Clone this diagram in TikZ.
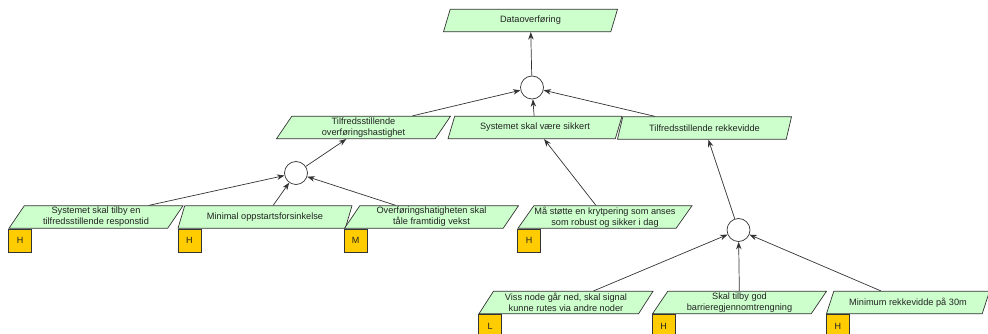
\documentclass[tikz,border=0pt]{standalone}
\usepackage{fontspec}
\setmainfont{Liberation Sans}
\usetikzlibrary{shapes.geometric,arrows.meta}
\definecolor{reqfill}{HTML}{CCFFCC}
\definecolor{badgefill}{HTML}{FFCC00}
\definecolor{linegray}{HTML}{333333}
\definecolor{txt}{HTML}{222222}
\begin{document}
\begin{tikzpicture}[x=1pt,y=-1pt,
  req/.style={trapezium, trapezium left angle=52, trapezium right angle=128,
    trapezium stretches body, minimum width=174pt, minimum height=22.5pt,
    inner sep=0pt, draw=linegray, fill=reqfill, line width=0.7pt,
    font=\fontsize{9.2}{11}\selectfont, align=center, text=txt},
  andnode/.style={circle, draw=linegray, fill=white, minimum size=23pt,
    inner sep=0pt, line width=0.7pt},
  badge/.style={rectangle, draw=linegray, fill=badgefill, minimum width=23pt,
    minimum height=23pt, inner sep=0pt, anchor=north west, line width=0.7pt,
    font=\fontsize{9}{10}\selectfont, text=txt},
  link/.style={draw=linegray, line width=0.7pt, -{Stealth[length=7.5pt,width=5.5pt]}}]
\useasboundingbox (0,0) rectangle (988,334);
% nodes
\node[req] (d0) at (530.5,20.5) {Dataoverføring};
\node[andnode] (c1) at (532,87.5) {};
\node[req] (t1) at (363.5,127.5) {Tilfredsstillende\\overføringshastighet};
\node[req] (t2) at (535,127.5) {Systemet skal være sikkert};
\node[req] (t3) at (704.5,128) {Tilfredsstillende rekkevidde};
\node[andnode] (c2) at (296,173) {};
\node[req] (a1) at (96,217) {Systemet skal tilby en\\tilfredsstillende responstid};
\node[req] (a2) at (265,217) {Minimal oppstartsforsinkelse};
\node[req] (a3) at (431.5,217) {Overføringshatigheten skal\\tåle framtidig vekst};
\node[req] (a4) at (605,217) {Må støtte en krytpering som anses\\som robust og sikker i dag};
\node[andnode] (c3) at (738.5,230) {};
\node[req] (b1) at (566,302.5) {Viss node går ned, skal signal\\kunne rutes via andre noder};
\node[req] (b2) at (739.5,302.5) {Skal tilby god\\barrieregjennomtrengning};
\node[req, minimum width=163pt] (b3) at (908,302.5) {Minimum rekkevidde på 30m};
% badges
\node[badge] (pa1) at (a1.bottom left corner) {H};
\node[badge] (pa2) at (a2.bottom left corner) {H};
\node[badge] (pa3) at (a3.bottom left corner) {M};
\node[badge] (pa4) at (a4.bottom left corner) {H};
\node[badge] (pb1) at (b1.bottom left corner) {L};
\node[badge] (pb2) at (b2.bottom left corner) {H};
\node[badge] (pb3) at (b3.bottom left corner) {H};
% links
\draw[link] (c1) -- (d0);
\draw[link] (t1) -- (c1);
\draw[link] (t2) -- (c1);
\draw[link] (t3) -- (c1);
\draw[link] (c2) -- (t1);
\draw[link] (a1) -- (c2);
\draw[link] (a2) -- (c2);
\draw[link] (a3) -- (c2);
\draw[link] (a4) -- (t2);
\draw[link] (c3) -- (t3);
\draw[link] (b1) -- (c3);
\draw[link] (b2) -- (c3);
\draw[link] (b3) -- (c3);
\end{tikzpicture}
\end{document}
